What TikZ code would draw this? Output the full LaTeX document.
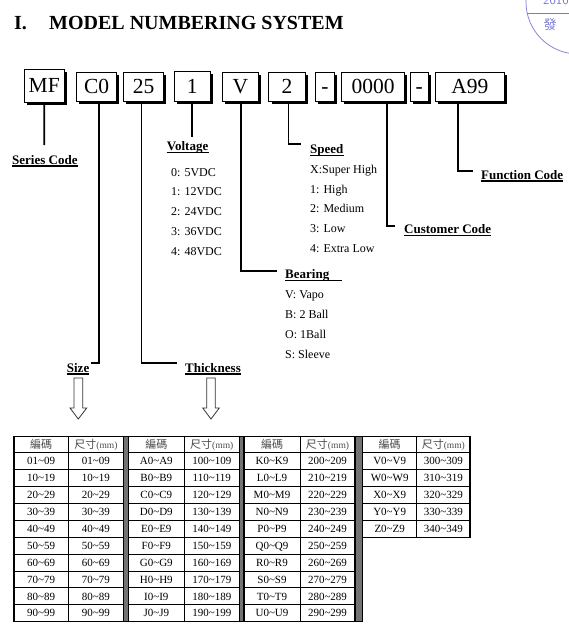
\documentclass[tikz,border=0pt]{standalone}
\usepackage{fontspec}
\setmainfont{Liberation Serif}
\newfontfamily\cjk{Noto Sans CJK TC}
\usetikzlibrary{shadows}
\definecolor{stampblue}{RGB}{120,120,215}
\newcommand\tld{\textasciitilde}
\tikzset{
  codebox/.style={draw, line width=0.9pt, fill=white, inner sep=0pt,
    font=\fontsize{21.5}{24}\selectfont, text height=14.5pt, text depth=0pt,
    drop shadow={shadow xshift=2.6pt, shadow yshift=-2.6pt, fill=black, opacity=1}},
  conn/.style={line width=1.7pt},
  lbl/.style={font=\fontsize{13}{15}\selectfont\bfseries, inner sep=0pt, anchor=base west},
  item/.style={font=\fontsize{12}{14}\selectfont, inner sep=0pt, anchor=base west},
  uline/.style={line width=1.1pt},
  hollow/.style={draw=black!80, line width=0.8pt, fill=white},
  cell/.style={font=\fontsize{11}{12}\selectfont, inner sep=0pt, anchor=center, text height=7.4pt, text depth=0pt},
  hcell/.style={cell, text=black!70},
  tline/.style={line width=0.9pt},
  tborder/.style={line width=1.4pt},
  sepbar/.style={fill=black!55, draw=black, line width=0.8pt},
}
\begin{document}
\begin{tikzpicture}[x=1pt,y=-1pt]
\useasboundingbox (0,0) rectangle (569,635);
\fill[white] (0,0) rectangle (569,635);

% stamp (top right, cropped)
\begin{scope}
  \clip (0,0) rectangle (569,635);
  \draw[stampblue, line width=0.7pt] (578,2) circle (52);
  \draw[stampblue, line width=0.7pt] (527.2,13.3) -- (569,13.3);
  \node[anchor=base west, inner sep=0pt, text=stampblue, font=\sffamily\fontsize{13}{15}\selectfont] (stampyear) at (543,4.5) {2016};
  \node[inner sep=0pt, text=stampblue, font=\cjk\fontsize{13}{15}\selectfont] (stampchar) at (550,25) {發};
\end{scope}

% title
\node[anchor=base west, inner sep=0pt, font=\fontsize{20}{24}\selectfont\bfseries] (titlenum) at (14,29.3) {I.};
\node[anchor=base west, inner sep=0pt, font=\fontsize{20}{24}\selectfont\bfseries] (title) at (49,29.3) {MODEL NUMBERING SYSTEM};

% code boxes
\node[codebox, minimum width=39.9pt, minimum height=33pt] (mf) at (44.25,85.5) {MF};
\node[codebox, minimum width=40.2pt, minimum height=29pt] (c0) at (96.7,86.5) {C0};
\node[codebox, minimum width=40.2pt, minimum height=29pt] (b25) at (143.5,86.5) {25};
\node[codebox, minimum width=35.9pt, minimum height=30pt] (b1) at (192.15,86) {1};
\node[codebox, minimum width=36.6pt, minimum height=29pt] (bv) at (240.4,86.5) {V};
\node[codebox, minimum width=36.3pt, minimum height=29pt] (b2) at (287.05,86.5) {2};
\node[codebox, minimum width=19.2pt, minimum height=29pt] (d1) at (324.9,86.5) {-};
\node[codebox, minimum width=62.8pt, minimum height=29pt] (b0) at (373.2,86.5) {0000};
\node[codebox, minimum width=18.2pt, minimum height=29pt] (d2) at (419.1,86.5) {-};
\node[codebox, minimum width=69pt, minimum height=29pt] (ba) at (469.9,86.5) {A99};

% connectors
\coordinate (mfe) at (44.3,145);
\draw[conn] (mf.south) -- (mfe);
\coordinate (c0e) at (91,363.3);
\draw[conn] ([xshift=2pt]c0.south) |- (c0e);
\coordinate (b25e) at (176.7,363.3);
\draw[conn] ([xshift=-2pt]b25.south) |- (b25e);
\coordinate (b1e) at (192.15,136.7);
\draw[conn] (b1.south) -- (b1e);
\coordinate (bve) at (276.7,270.7);
\draw[conn] ([xshift=0.9pt]bv.south) |- (bve);
\coordinate (b2e) at (300.7,144);
\draw[conn] ([xshift=1.3pt]b2.south) |- (b2e);
\coordinate (b0e) at (395,226);
\draw[conn] ([xshift=13.8pt]b0.south) |- (b0e);
\coordinate (bae) at (472.7,171);
\draw[conn] ([xshift=-11.9pt]ba.south) |- (bae);

% labels
\node[lbl] (sercode) at (12,164) {Series Code};
\node[lbl] (volt) at (166.7,150.7) {Voltage};
\node[lbl] (speed) at (310,153.3) {Speed};
\node[lbl] (func) at (481,179) {Function Code};
\node[lbl] (cust) at (404,233.3) {Customer Code};
\node[lbl] (bear) at (285,278.3) {Bearing};
\node[lbl] (size) at (66.7,372) {Size};
\node[lbl] (thick) at (185,372) {Thickness};
\foreach \n in {sercode,volt,speed,func,cust,size,thick}
  \draw[uline] ([yshift=-2pt]\n.base west) -- ([yshift=-2pt]\n.base east);
\draw[uline] ([yshift=-2pt]bear.base west) -- ([xshift=13pt,yshift=-2pt]bear.base east);

% items
\foreach \t [count=\i from 0] in {0: 5VDC,1: 12VDC,2: 24VDC,3: 36VDC,4: 48VDC}
  \node[item] (volt\i) at (171,{176+19.75*\i}) {\t};
\foreach \t [count=\i from 0] in {X:Super High,1: High,2: Medium,3: Low,4: Extra Low}
  \node[item] (speed\i) at (310,{173.3+19.75*\i}) {\t};
\foreach \t [count=\i from 0] in {V: Vapo,B: 2 Ball,O: 1Ball,S: Sleeve}
  \node[item] (bear\i) at (285,{298.3+19.9*\i}) {\t};

% hollow arrows
\draw[hollow] (74,378) -- (82.7,378) -- (82.7,408) -- (86.7,408) -- (78.3,419) -- (70,408) -- (74,408) -- cycle;
\draw[hollow] (206.7,378) -- (215.3,378) -- (215.3,408) -- (219.3,408) -- (211,419) -- (202.7,408) -- (206.7,408) -- cycle;

% table separators
\fill[sepbar] (123.5,436.7) rectangle (128.3,621.7);
\fill[sepbar] (239.3,436.7) rectangle (244,621.7);
\fill[sepbar] (355,436.7) rectangle (362.7,621.7);

% table grids
\foreach \gl/\gm/\gr/\nr [count=\g] in {14/68.3/123.5/10, 128.3/184.3/239.3/10, 244/300/355/10, 362.7/416.7/470/5} {
  \pgfmathsetmacro\gb{452.7+16.9*\nr}
  \foreach \k in {1,...,\nr} {
    \pgfmathsetmacro\yy{452.7+16.9*(\k-1)}
    \draw[tline] (\gl,\yy) -- (\gr,\yy);
  }
  \draw[tline] (\gm,436.7) -- (\gm,\gb);
  \draw[tborder] (\gl,436.7) rectangle (\gr,\gb);
  \node[hcell] (h\g-a) at ({(\gl+\gm)/2},444.7) {\cjk 編碼};
  \node[hcell] (h\g-b) at ({(\gm+\gr)/2},444.7) {{\cjk 尺寸}\fontsize{9.5}{10}\selectfont(mm)};
}

% table data
\foreach \a/\b [count=\i] in {01\tld09/01\tld09,10\tld19/10\tld19,20\tld29/20\tld29,30\tld39/30\tld39,40\tld49/40\tld49,50\tld59/50\tld59,60\tld69/60\tld69,70\tld79/70\tld79,80\tld89/80\tld89,90\tld99/90\tld99} {
  \node[cell] (c1-\i-a) at (41.15,{452.7+16.9*(\i-0.5)}) {\a};
  \node[cell] (c1-\i-b) at (95.9,{452.7+16.9*(\i-0.5)}) {\b};
}
\foreach \a/\b [count=\i] in {A0\tld A9/100\tld109,B0\tld B9/110\tld119,C0\tld C9/120\tld129,D0\tld D9/130\tld139,E0\tld E9/140\tld149,F0\tld F9/150\tld159,G0\tld G9/160\tld169,H0\tld H9/170\tld179,I0\tld I9/180\tld189,J0\tld J9/190\tld199} {
  \node[cell] (c2-\i-a) at (156.3,{452.7+16.9*(\i-0.5)}) {\a};
  \node[cell] (c2-\i-b) at (211.8,{452.7+16.9*(\i-0.5)}) {\b};
}
\foreach \a/\b [count=\i] in {K0\tld K9/200\tld209,L0\tld L9/210\tld219,M0\tld M9/220\tld229,N0\tld N9/230\tld239,P0\tld P9/240\tld249,Q0\tld Q9/250\tld259,R0\tld R9/260\tld269,S0\tld S9/270\tld279,T0\tld T9/280\tld289,U0\tld U9/290\tld299} {
  \node[cell] (c3-\i-a) at (272,{452.7+16.9*(\i-0.5)}) {\a};
  \node[cell] (c3-\i-b) at (327.5,{452.7+16.9*(\i-0.5)}) {\b};
}
\foreach \a/\b [count=\i] in {V0\tld V9/300\tld309,W0\tld W9/310\tld319,X0\tld X9/320\tld329,Y0\tld Y9/330\tld339,Z0\tld Z9/340\tld349} {
  \node[cell] (c4-\i-a) at (389.7,{452.7+16.9*(\i-0.5)}) {\a};
  \node[cell] (c4-\i-b) at (443.35,{452.7+16.9*(\i-0.5)}) {\b};
}
\end{tikzpicture}
\end{document}
